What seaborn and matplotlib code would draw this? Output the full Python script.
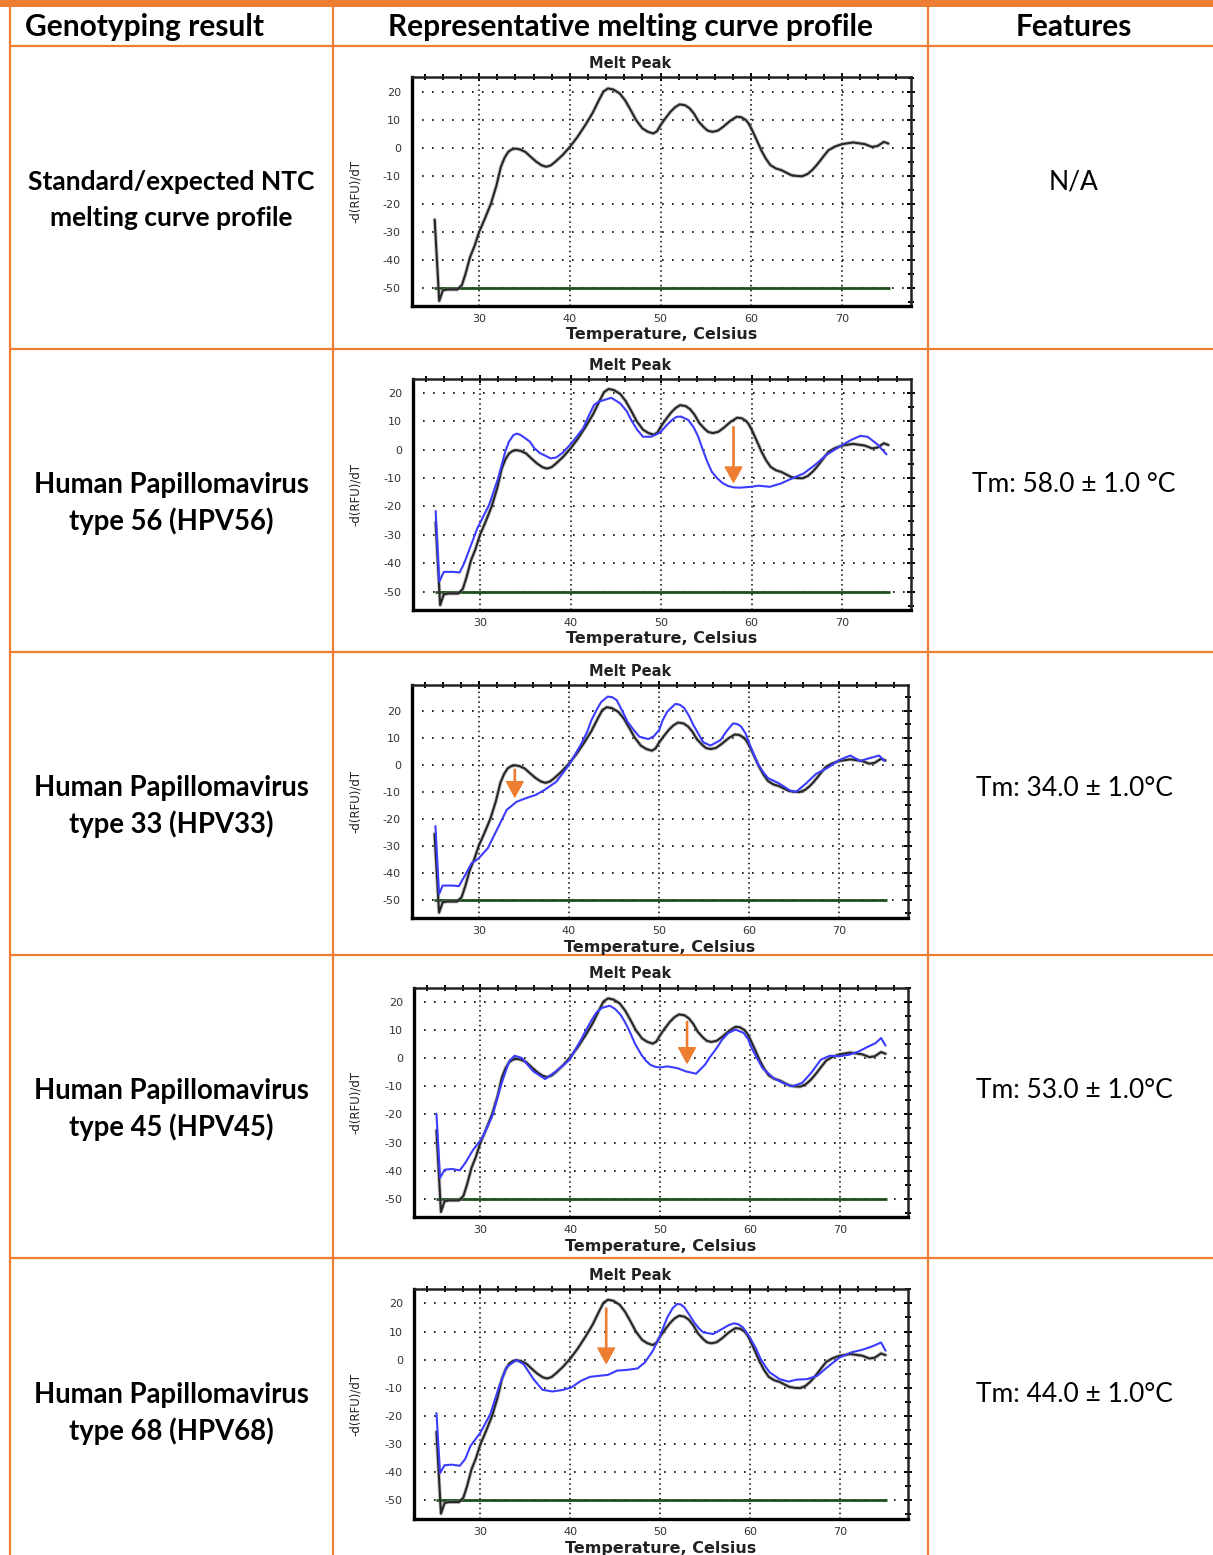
import matplotlib
matplotlib.use("Agg")
import numpy as np
import pandas as pd
import matplotlib.pyplot as plt
from matplotlib.lines import Line2D
from matplotlib.patches import Rectangle
from matplotlib.ticker import MultipleLocator
import seaborn as sns

sns.set_style("white")
plt.rcParams["font.family"] = ["DejaVu Sans"]
plt.rcParams["axes.unicode_minus"] = False

# ---------------------------------------------------------------- data
# No-template-control melt peak (temperature in Celsius, -d(RFU)/dT)
ntc_temp = [25.1, 25.6, 26.0, 26.5, 27.6, 28.1, 28.5, 29.0, 29.5, 30.0, 30.6, 31.3,
            31.9, 32.4, 32.8, 33.2, 33.6, 34.0, 34.5, 35.1, 35.7, 36.3, 36.9, 37.4,
            37.9, 38.4, 39.2, 40.0, 40.8, 41.7, 42.5, 43.2, 43.7, 44.2, 44.8, 45.5,
            46.1, 46.7, 47.3, 48.0, 48.6, 49.2, 49.6, 50.0, 50.5, 51.1, 51.6, 52.1,
            52.7, 53.2, 53.7, 54.2, 54.8, 55.2, 55.7, 56.3, 56.9, 57.7, 58.4, 58.9,
            59.4, 59.7, 60.0, 60.5, 61.1, 61.6, 62.1, 62.7, 63.3, 64.4, 65.0, 65.6,
            66.2, 66.7, 67.1, 67.5, 68.0, 68.5, 69.2, 70.0, 71.2, 72.5, 73.3, 73.9,
            74.6, 75.1]
ntc_val = [-25.6, -54.7, -50.9, -50.6, -50.6, -49.0, -45.0, -39.0, -35.0, -30.0, -25.5, -19.9,
           -13.5, -6.7, -3.5, -1.4, -0.5, -0.2, -0.5, -1.4, -3.2, -4.9, -6.2, -6.7,
           -6.2, -4.9, -2.5, 0.4, 3.8, 8.2, 12.5, 17.1, 20.2, 21.3, 20.9, 19.5,
           17.0, 13.6, 10.0, 7.0, 5.8, 5.2, 6.0, 8.2, 10.5, 13.0, 14.6, 15.6,
           15.3, 14.2, 12.2, 9.4, 7.3, 6.2, 5.8, 6.2, 7.6, 9.8, 11.2, 11.0,
           10.0, 8.8, 7.0, 3.5, -0.8, -3.8, -6.1, -7.3, -7.9, -9.7, -10.0, -10.1,
           -9.3, -7.9, -6.5, -4.9, -2.8, -0.8, 0.5, 1.4, 2.0, 1.4, 0.4, 0.7,
           2.2, 1.6]

hpv56_temp = [25.1, 25.5, 26.0, 27.0, 27.75, 28.25, 29.7, 31.0, 32.0, 32.8, 33.2, 33.7,
              34.1, 34.5, 35.5, 36.0, 36.6, 37.8, 38.4, 39.1, 40.1, 41.4, 42.0, 42.6,
              43.1, 43.7, 44.5, 45.5, 46.2, 46.8, 47.4, 48.0, 48.9, 49.9, 50.6, 51.2,
              51.7, 52.2, 53.0, 53.6, 54.1, 54.6, 55.1, 55.6, 56.2, 56.8, 57.4, 58.0,
              58.7, 59.9, 60.75, 62.0, 63.25, 64.5, 65.75, 67.0, 68.25, 69.7, 71.0, 72.0,
              72.8, 73.9, 74.9]
hpv56_val = [-21.6, -46.5, -43.0, -43.0, -43.2, -40.0, -27.7, -19.5, -10.1, -0.6, 2.8, 5.1,
             5.6, 5.1, 2.8, 0.5, -1.2, -3.1, -2.8, -1.2, 2.2, 7.5, 11.8, 15.7,
             16.8, 17.4, 18.2, 16.2, 13.5, 9.8, 6.8, 4.5, 4.5, 6.0, 8.5, 10.4,
             11.5, 11.6, 10.4, 7.8, 4.5, 0.0, -4.3, -7.8, -10.1, -11.8, -12.8, -13.3,
             -13.4, -13.1, -12.7, -13.1, -11.9, -10.1, -8.4, -5.4, -1.9, 1.0, 3.4, 4.8,
             4.5, 1.8, -1.7]

hpv33_temp = [25.2, 25.6, 26.0, 27.1, 27.8, 28.5, 29.2, 30.0, 31.0, 32.1, 33.1, 34.2,
              35.2, 36.3, 37.3, 38.6, 40.0, 41.3, 42.0, 42.5, 43.1, 43.6, 44.3, 44.8,
              45.3, 45.9, 46.5, 47.2, 47.8, 48.8, 49.4, 50.0, 50.4, 50.9, 51.8, 52.3,
              52.8, 53.3, 53.8, 54.4, 54.9, 55.7, 56.8, 57.5, 58.2, 58.7, 59.1, 59.6,
              60.0, 60.5, 61.0, 61.6, 62.1, 63.3, 64.6, 65.2, 66.3, 67.4, 68.6, 70.0,
              71.2, 72.3, 73.3, 74.4, 75.0]
hpv33_val = [-22.7, -47.9, -44.7, -44.7, -44.9, -40.8, -36.5, -34.6, -30.9, -23.5, -16.7, -13.7,
             -12.4, -11.2, -9.3, -6.3, -0.1, 7.3, 12.0, 16.5, 20.5, 23.3, 25.2, 25.0,
             23.9, 20.0, 15.9, 12.8, 10.4, 9.5, 10.5, 12.8, 16.5, 19.6, 22.5, 22.2,
             20.9, 18.2, 14.7, 11.2, 8.3, 7.1, 9.1, 12.5, 15.3, 15.0, 14.1, 11.5,
             7.9, 3.8, 0.0, -3.0, -5.0, -6.9, -9.7, -10.0, -6.9, -3.4, -1.3, 1.8,
             3.4, 1.4, 2.4, 3.4, 1.4]

hpv45_temp = [25.1, 25.5, 26.0, 26.8, 27.7, 28.3, 29.2, 30.2, 31.3, 32.3, 33.2, 33.8,
              34.6, 35.9, 37.2, 38.4, 39.9, 41.2, 41.8, 42.4, 42.9, 43.5, 44.4, 45.0,
              45.6, 46.1, 46.6, 47.2, 47.9, 48.4, 48.9, 49.4, 50.0, 50.8, 51.9, 52.9,
              54.0, 55.0, 55.5, 56.3, 56.9, 57.6, 58.4, 59.3, 59.8, 60.2, 60.8, 61.4,
              62.6, 63.7, 64.7, 65.8, 66.8, 67.9, 68.9, 70.0, 71.1, 72.1, 73.2, 74.0,
              74.6, 75.1]
hpv45_val = [-19.7, -42.6, -39.7, -39.4, -39.9, -37.3, -32.5, -28.4, -20.7, -9.4, -1.0, 0.9,
             0.1, -4.7, -7.4, -4.7, -0.6, 6.6, 10.3, 13.7, 16.2, 17.9, 18.7, 17.5,
             15.5, 12.8, 9.6, 5.2, 1.3, -0.8, -2.3, -3.0, -3.3, -2.9, -3.5, -4.7,
             -5.5, -2.3, 0.2, 3.6, 6.6, 9.0, 10.2, 9.0, 6.8, 3.6, 0.0, -3.5,
             -7.0, -8.8, -10.0, -8.8, -5.3, -0.5, 0.9, 0.7, 1.3, 2.4, 4.2, 5.4,
             7.2, 4.5]

hpv68_temp = [25.1, 25.5, 26.0, 26.8, 27.7, 28.3, 28.9, 30.0, 31.1, 32.1, 32.9, 34.0,
              34.8, 35.9, 36.9, 38.0, 39.1, 40.1, 41.2, 42.2, 43.3, 44.2, 45.2, 46.4,
              47.5, 48.3, 49.2, 49.6, 50.0, 50.4, 50.8, 51.4, 51.9, 52.3, 52.7, 53.2,
              53.8, 54.3, 54.8, 55.9, 56.9, 57.6, 58.2, 58.7, 59.2, 59.6, 60.1, 60.7,
              61.2, 61.7, 62.2, 63.3, 64.3, 65.2, 66.4, 67.5, 68.8, 70.0, 71.3, 72.5,
              73.6, 74.6, 75.1]
hpv68_val = [-19.0, -40.3, -37.5, -37.3, -37.7, -35.3, -30.6, -25.9, -19.3, -9.3, -2.7, -0.1,
             -1.6, -6.9, -10.7, -11.3, -10.8, -9.9, -7.5, -6.1, -5.7, -5.4, -3.9, -3.6,
             -3.1, -1.0, 3.2, 5.8, 8.5, 11.8, 15.0, 18.3, 19.8, 19.6, 18.6, 16.2,
             13.2, 11.2, 9.7, 9.1, 10.9, 12.2, 12.9, 12.6, 11.5, 9.8, 7.3, 3.8,
             0.2, -2.3, -4.5, -6.9, -7.8, -7.1, -6.9, -5.7, -2.2, 0.8, 2.6, 3.5,
             4.7, 6.1, 3.2]

threshold_level = -50.0
threshold_span = [25.0, 75.3]

row_titles = [
    ["Standard/expected NTC", "melting curve profile"],
    ["Human Papillomavirus", "type 56 (HPV56)"],
    ["Human Papillomavirus", "type 33 (HPV33)"],
    ["Human Papillomavirus", "type 45 (HPV45)"],
    ["Human Papillomavirus", "type 68 (HPV68)"],
]
feature_texts = ["N/A", "Tm: 58.0 \u00b1 1.0 \u00b0C", "Tm: 34.0 \u00b1 1.0\u00b0C",
                 "Tm: 53.0 \u00b1 1.0\u00b0C", "Tm: 44.0 \u00b1 1.0\u00b0C"]
sample_names = [None, "HPV56", "HPV33", "HPV45", "HPV68"]
sample_temps = [None, hpv56_temp, hpv33_temp, hpv45_temp, hpv68_temp]
sample_vals = [None, hpv56_val, hpv33_val, hpv45_val, hpv68_val]
tm_values = [None, 58.0, 34.0, 53.0, 44.0]
arrow_top = [None, 8.0, -1.7, 13.1, 18.3]
arrow_tip = [None, -11.5, -11.9, -1.7, -1.3]
header_texts = ["Genotyping result", "Representative melting curve profile", "Features"]

# ---------------------------------------------------------------- layout
W, H, DPI = 1213, 1555, 100
ORANGE = "#ED7D31"
fig = plt.figure(figsize=(W / DPI, H / DPI), dpi=DPI)


def fx(px):
    return px / W


def fy(py):
    return 1 - py / H


def hline(y, x0, x1, lw=1.6):
    fig.add_artist(Line2D([fx(x0), fx(x1)], [fy(y), fy(y)], transform=fig.transFigure,
                          color=ORANGE, lw=lw, solid_capstyle="butt"))


def vline(x, y0, y1, lw=1.6):
    fig.add_artist(Line2D([fx(x), fx(x)], [fy(y0), fy(y1)], transform=fig.transFigure,
                          color=ORANGE, lw=lw, solid_capstyle="butt"))


# title band and grid of the table
fig.add_artist(Rectangle((0, fy(7)), 1, 7 / H, transform=fig.transFigure,
                         facecolor=ORANGE, edgecolor="none"))
hline(46, 9.5, W)
row_lines = [349, 652, 955, 1258]
for y in row_lines:
    hline(y, 9.5, W)
vline(9.5, 0, H)
vline(333, 0, H)
vline(928, 0, H)

TABLE_FONT = ["Lato", "DejaVu Sans"]
fig.text(fx(25), fy(27), header_texts[0], ha="left", va="center", fontsize=21.5,
         fontweight="bold", family=TABLE_FONT, color="black")
fig.text(fx(630), fy(27), header_texts[1], ha="center", va="center", fontsize=21.5,
         fontweight="bold", family=TABLE_FONT, color="black")
fig.text(fx(1074), fy(27), header_texts[2], ha="center", va="center", fontsize=21.5,
         fontweight="bold", family=TABLE_FONT, color="black")

text_rows = [181, 484, 787, 1090, 1394]
for i, y in enumerate(text_rows):
    size = 19 if i == 0 else 19.8
    fig.text(fx(171), fy(y + 1), row_titles[i][0], ha="center", va="center", fontsize=size,
             fontweight="bold", family=TABLE_FONT, color="black")
    fig.text(fx(171), fy(y + 37), row_titles[i][1], ha="center", va="center", fontsize=size,
             fontweight="bold", family=TABLE_FONT, color="black")
    fig.text(fx(1074), fy(y + 1), feature_texts[i], ha="center", va="center", fontsize=19,
             family=TABLE_FONT, color="black")

# melt peak panels: (left, top, right, bottom) in pixels and y-range
panel_boxes = [(412, 77, 911, 306), (413, 379, 911, 610), (412, 685, 908, 918),
               (414, 988, 908, 1217), (414, 1289, 908, 1519)]
panel_ylims = [(-56.5, 25.4), (-56.4, 24.8), (-56.7, 29.5), (-56.5, 25.0), (-56.6, 25.1)]

NTC_COLOR = "#262626"
SAMPLE_COLOR = "#3c3cff"
GREEN = "#1d4f1d"

for i, (l, t, r, b) in enumerate(panel_boxes):
    ax = fig.add_axes([fx(l), fy(b), (r - l) / W, (b - t) / H])
    ax.set_xlim(22.6, 77.6)
    ax.set_ylim(*panel_ylims[i])

    ax.hlines(threshold_level, threshold_span[0], threshold_span[1], color=GREEN, lw=2.0,
              zorder=2)

    ntc = pd.DataFrame({"Temperature": ntc_temp, "dRFU": ntc_val})
    sns.lineplot(data=ntc, x="Temperature", y="dRFU", sort=False, estimator=None,
                 color="#8a8a8a", lw=2.8, alpha=0.5, ax=ax, zorder=3)
    sns.lineplot(data=ntc, x="Temperature", y="dRFU", sort=False, estimator=None,
                 color=NTC_COLOR, lw=1.5, ax=ax, zorder=4)

    if sample_names[i] is not None:
        smp = pd.DataFrame({"Temperature": sample_temps[i], "dRFU": sample_vals[i]})
        sns.lineplot(data=smp, x="Temperature", y="dRFU", sort=False, estimator=None,
                     color=SAMPLE_COLOR, lw=1.5, ax=ax, zorder=5)
        ax.annotate("", xy=(tm_values[i], arrow_tip[i]), xytext=(tm_values[i], arrow_top[i]),
                    arrowprops=dict(width=0.9, headwidth=12, headlength=11,
                                    facecolor=ORANGE, edgecolor=ORANGE, shrink=0),
                    zorder=6)

    ax.set_xlabel("")
    ax.set_ylabel("")
    ax.xaxis.set_major_locator(MultipleLocator(10))
    ax.xaxis.set_minor_locator(MultipleLocator(2))
    ax.yaxis.set_major_locator(MultipleLocator(10))
    ax.yaxis.set_minor_locator(MultipleLocator(5))
    ax.xaxis.grid(True, which="major", linestyle=(0, (1, 2.2)), color="black", lw=1.1)
    ax.yaxis.grid(True, which="major", linestyle=(0, (1, 5)), color="black", lw=1.2)
    ax.tick_params(which="both", direction="inout", top=True, right=True,
                   labeltop=False, labelright=False, color="black", width=1.4)
    ax.tick_params(which="major", length=6)
    ax.tick_params(which="minor", length=4)
    ax.tick_params(axis="x", labelsize=8, pad=3, labelcolor="#333333")
    ax.tick_params(axis="y", labelsize=8, pad=5, labelcolor="#333333")
    for side in ["left", "bottom"]:
        ax.spines[side].set_linewidth(2.4)
        ax.spines[side].set_color("black")
    for side in ["top", "right"]:
        ax.spines[side].set_linewidth(1.8)
        ax.spines[side].set_color("#222222")

    fig.text(fx(630), fy(t - 14), "Melt Peak", ha="center", va="center",
             fontsize=10.5, fontweight="bold", color="#222222")
    fig.text(fx((l + r) / 2), fy(b + 29), "Temperature, Celsius", ha="center",
             va="center", fontsize=11.5, fontweight="bold", color="#222222")
    fig.text(fx(355), fy((t + b) / 2), "-d(RFU)/dT", ha="center", va="center",
             rotation=90, fontsize=8.5, color="#222222")

fig.savefig("out.png", dpi=DPI, facecolor="white")
